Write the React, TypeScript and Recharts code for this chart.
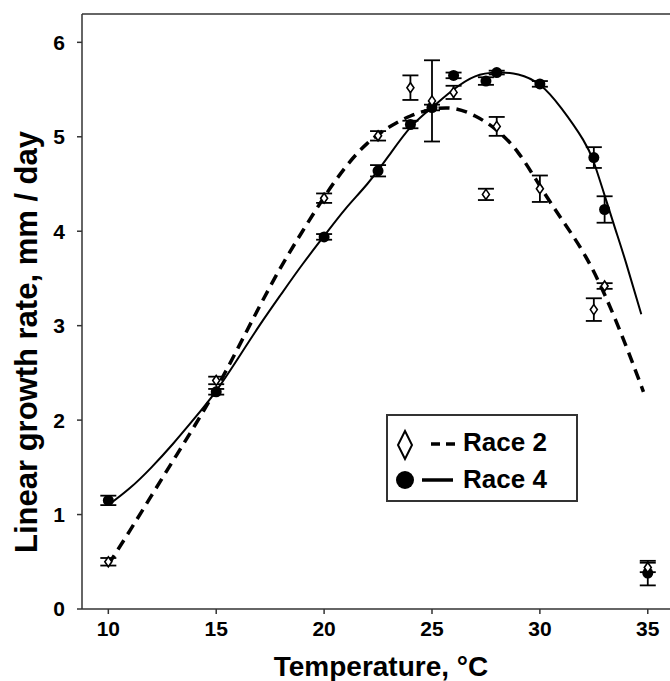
import React from 'react';
import {
  ComposedChart, Line, Scatter, ErrorBar, XAxis, YAxis, ReferenceLine, Legend,
} from 'recharts';

// measured points (mean ± error)
const temps = [10, 15, 20, 22.5, 24, 25, 26, 27.5, 28, 30, 32.5, 33, 35];
const race2Rate = [0.5, 2.42, 4.35, 5.01, 5.52, 5.38, 5.47, 4.39, 5.11, 4.45, 3.17, 3.42, 0.44];
const race2Err = [0.04, 0.04, 0.05, 0.05, 0.13, 0.43, 0.07, 0.06, 0.1, 0.14, 0.12, 0.03, 0.05];
const race4Rate = [1.15, 2.3, 3.94, 4.64, 5.13, 5.31, 5.65, 5.59, 5.68, 5.56, 4.78, 4.23, 0.38];
const race4Err = [0.05, 0.03, 0.03, 0.06, 0.04, 0.03, 0.03, 0.04, 0.02, 0.03, 0.11, 0.14, 0.13];

// fitted curves
const race2FitT = [10, 11, 12, 13, 14, 15, 16, 17, 18, 19, 20, 21, 22, 23, 24, 25, 26, 27, 28, 29, 30, 31, 32, 33, 34, 34.8];
const race2FitY = [0.47, 0.83, 1.2, 1.57, 1.94, 2.33, 2.76, 3.2, 3.62, 4.0, 4.36, 4.68, 4.93, 5.1, 5.22, 5.29, 5.3, 5.22, 5.07, 4.83, 4.48, 4.13, 3.78, 3.33, 2.78, 2.3];
const race4FitT = [10, 11, 12, 13, 14, 15, 16, 17, 18, 19, 20, 21, 22, 23, 24, 25, 26, 27, 28, 29, 30, 31, 32, 32.5, 33, 33.5, 34, 34.7];
const race4FitY = [1.1, 1.28, 1.5, 1.75, 2.02, 2.31, 2.65, 3.0, 3.33, 3.65, 3.95, 4.24, 4.5, 4.8, 5.1, 5.31, 5.5, 5.64, 5.68, 5.66, 5.55, 5.3, 4.97, 4.73, 4.38, 4.02, 3.66, 3.12];

const seriesNames = ['Race 2', 'Race 4'];
const xTicks = [10, 15, 20, 25, 30, 35];
const yTicks = [0, 1, 2, 3, 4, 5, 6];

const race2Points = temps.map((x, i) => ({ x, y: race2Rate[i], err: race2Err[i] }));
const race4Points = temps.map((x, i) => ({ x, y: race4Rate[i], err: race4Err[i] }));
const race2Fit = race2FitT.map((x, i) => ({ x, y: race2FitY[i] }));
const race4Fit = race4FitT.map((x, i) => ({ x, y: race4FitY[i] }));

const FONT = '"Liberation Sans", Arial, Helvetica, sans-serif';
const AXIS = '#333';

const Diamond = (props: any) => {
  const { cx, cy } = props;
  if (cx == null || cy == null) return null;
  return (
    <path
      d={`M${cx},${cy - 5} L${cx + 3.5},${cy} L${cx},${cy + 5} L${cx - 3.5},${cy} Z`}
      fill="#fff"
      stroke="#000"
      strokeWidth={1.6}
    />
  );
};

const Dot = (props: any) => {
  const { cx, cy } = props;
  if (cx == null || cy == null) return null;
  return <circle cx={cx} cy={cy} r={5.5} fill="#000" />;
};

const LegendBox = () => (
  <svg width={192} height={88} style={{ display: 'block' }}>
    <rect x={1} y={1} width={190} height={86} fill="#fff" stroke={AXIS} strokeWidth={2} />
    <path d="M19,17 L26,31 L19,45 L12,31 Z" fill="#fff" stroke="#000" strokeWidth={2} />
    <line x1={45} y1={30} x2={71} y2={30} stroke="#000" strokeWidth={3.5} strokeDasharray="9 6" />
    <text x={77} y={37} fontFamily={FONT} fontWeight="bold" fontSize={26} fill="#000">{seriesNames[0]}</text>
    <circle cx={19} cy={66} r={9} fill="#000" />
    <line x1={36} y1={66} x2={67} y2={66} stroke="#000" strokeWidth={3.5} />
    <text x={77} y={74} fontFamily={FONT} fontWeight="bold" fontSize={26} fill="#000">{seriesNames[1]}</text>
  </svg>
);

const XTitle = () => (
  <text x={381} y={676} textAnchor="middle" fontFamily={FONT} fontWeight="bold" fontSize={28} fill="#000">
    Temperature, °C
  </text>
);

const YTitle = () => (
  <text
    x={37}
    y={342}
    textAnchor="middle"
    transform="rotate(-90, 37, 342)"
    fontFamily={FONT}
    fontWeight="bold"
    fontSize={31}
    fill="#000"
  >
    Linear growth rate, mm / day
  </text>
);

const tickStyle = { fontFamily: FONT, fontWeight: 'bold', fontSize: 21, fill: '#000' };

export default function App() {
  return (
    <div style={{ position: 'absolute', left: 0, top: 0, width: 670, height: 681, background: '#fff' }}>
      <ComposedChart width={670} height={681} margin={{ top: 14, right: 0, bottom: 0, left: 0 }}>
        <XAxis
          dataKey="x"
          type="number"
          domain={[8.78, 36.03]}
          allowDataOverflow
          ticks={xTicks}
          height={72}
          tickSize={5}
          tickMargin={7}
          tick={tickStyle}
          axisLine={{ stroke: AXIS, strokeWidth: 1.5 }}
          tickLine={{ stroke: AXIS, strokeWidth: 1.5 }}
          label={<XTitle />}
        />
        <YAxis
          type="number"
          domain={[0, 6.3]}
          allowDataOverflow
          ticks={yTicks}
          width={82}
          tickSize={5}
          tickMargin={12}
          tick={tickStyle}
          axisLine={{ stroke: AXIS, strokeWidth: 1.5 }}
          tickLine={{ stroke: AXIS, strokeWidth: 1.5 }}
          label={<YTitle />}
        />
        <ReferenceLine y={6.3} stroke={AXIS} strokeWidth={1.5} />
        <Line
          data={race2Fit}
          dataKey="y"
          type="natural"
          stroke="#000"
          strokeWidth={3.5}
          strokeDasharray="11 7"
          dot={false}
          activeDot={false}
          isAnimationActive={false}
          legendType="none"
        />
        <Line
          data={race4Fit}
          dataKey="y"
          type="natural"
          stroke="#000"
          strokeWidth={2}
          dot={false}
          activeDot={false}
          isAnimationActive={false}
          legendType="none"
        />
        <Scatter data={race4Points} dataKey="y" name={seriesNames[1]} shape={<Dot />} isAnimationActive={false}>
          <ErrorBar dataKey="err" direction="y" width={8} stroke="#000" strokeWidth={1.8} />
        </Scatter>
        <Scatter data={race2Points} dataKey="y" name={seriesNames[0]} shape={<Diamond />} isAnimationActive={false}>
          <ErrorBar dataKey="err" direction="y" width={8} stroke="#000" strokeWidth={1.8} />
        </Scatter>
        <Legend
          content={() => <LegendBox />}
          wrapperStyle={{ position: 'absolute', left: 386, top: 414, width: 0, height: 0, overflow: 'visible' }}
        />
      </ComposedChart>
    </div>
  );
}
